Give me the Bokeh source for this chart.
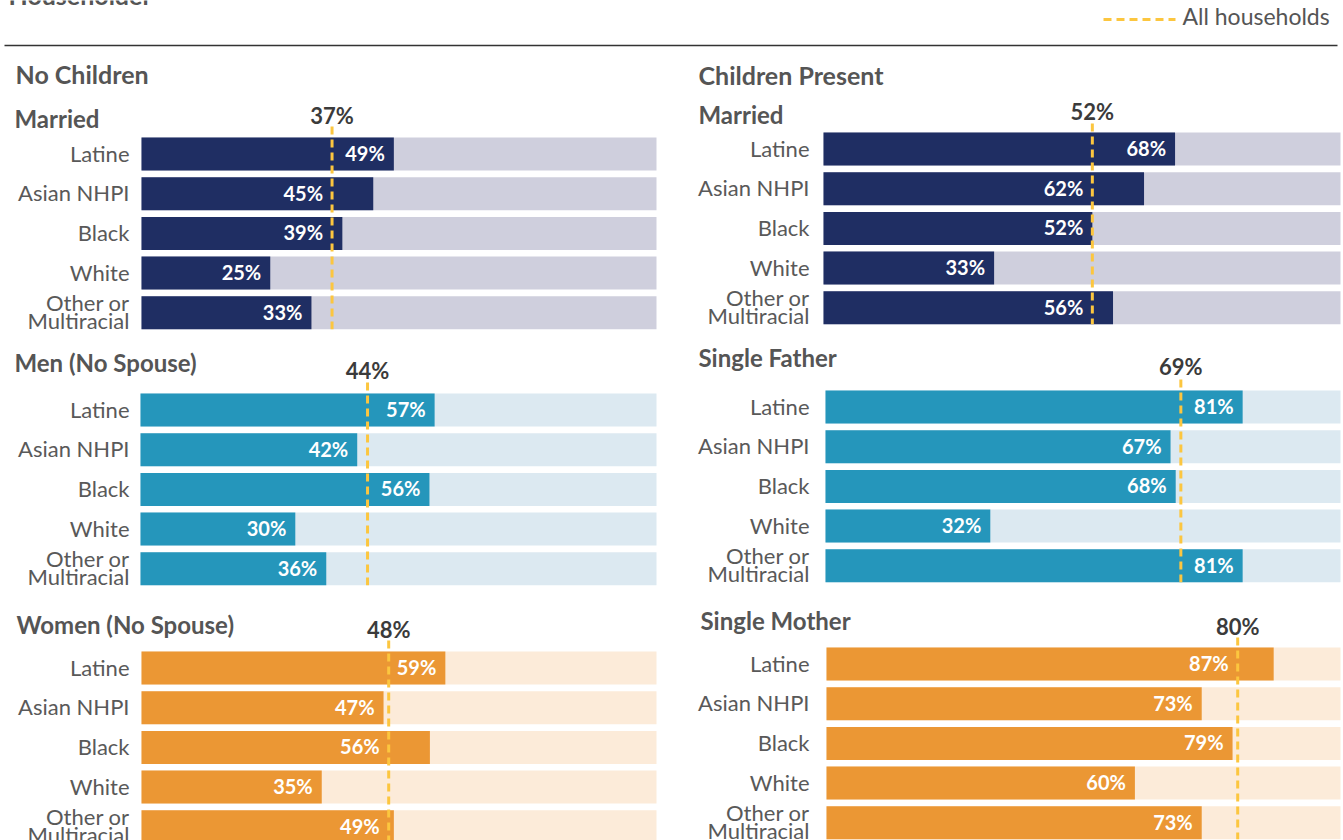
from bokeh.plotting import figure
from bokeh.models import Range1d, ColumnDataSource
from bokeh.core.properties import value
from bokeh.embed import file_html
from bokeh.resources import INLINE

# ---------------- data ----------------
categories = ["Latine", "Asian NHPI", "Black", "White", "Other or\nMultiracial"]

column_titles = ["No Children", "Children Present"]
panel_titles = ["Married", "Men (No Spouse)", "Women (No Spouse)",
                "Married", "Single Father", "Single Mother"]

nochild_married = [49, 45, 39, 25, 33]
nochild_men = [57, 42, 56, 30, 36]
nochild_women = [59, 47, 56, 35, 49]
child_married = [68, 62, 52, 33, 56]
single_father = [81, 67, 68, 32, 81]
single_mother = [87, 73, 79, 60, 73]

all_households = [37, 44, 48, 52, 69, 80]

legend_label = "All households"
title_text = "Householder"

# ---------------- style / layout ----------------
FONT = value("Lato")
W, H = 1343, 840
PITCH = 39.7
BAR_PX = 33.0
SHIFT = -0.4   # baseline correction, in em

dark = ["#1f2e63", "#2596bb", "#eb9734"]
light = ["#cfcfdd", "#dce9f1", "#fcebd9"]
YELLOW = "#fcc63f"
TXT = "#595959"
TITLE_C = "#555555"
AVG_C = "#3b3b3b"


def fs(n):
    return f"{n}px"


# per panel layout (px): bar origin, bar end, first bar top, title baseline,
# avg-label baseline, dashed line start, title x, category label right edge
layout = [
    dict(o=141, e=656, top=137, tb=128, ab=124, ls=126, tx=14, lx=129, row=0),
    dict(o=140, e=656, top=393, tb=372, ab=379, ls=382, tx=14, lx=129, row=1),
    dict(o=141, e=656, top=651, tb=634, ab=638, ls=640, tx=16, lx=129, row=2),
    dict(o=823, e=1340, top=132, tb=124, ab=120, ls=123, tx=698, lx=809, row=0),
    dict(o=825, e=1340, top=390, tb=367, ab=375, ls=379, tx=698, lx=809, row=1),
    dict(o=826, e=1340, top=647, tb=630, ab=635, ls=637, tx=700, lx=809, row=2),
]
series = [nochild_married, nochild_men, nochild_women,
          child_married, single_father, single_mother]

p = figure(width=W, height=H,
           x_range=Range1d(0, W), y_range=Range1d(H, 0),
           output_backend="svg", toolbar_location=None,
           x_axis_location=None, y_axis_location=None,
           min_border=0, outline_line_color=None)
p.grid.visible = False
p.background_fill_color = "white"
p.border_fill_color = "white"

# header
p.text(x=[8], y=[4], text=[title_text], text_font=FONT, text_font_size=fs(25),
       text_font_style="bold", text_color=TITLE_C, text_baseline="alphabetic",
       y_offset=SHIFT * 25)
p.segment(x0=[1103], x1=[1175], y0=[19], y1=[19], line_color=YELLOW,
          line_width=3, line_dash="8 5")
p.text(x=[1182], y=[25], text=[legend_label], text_font=FONT, text_font_size=fs(23),
       text_color=TITLE_C, text_baseline="alphabetic", y_offset=SHIFT * 23)
p.segment(x0=[4], x1=[1337], y0=[45], y1=[45], line_color="#333333", line_width=1.6)

p.text(x=[15, 698], y=[83, 84], text=column_titles, text_font=FONT,
       text_font_size=fs(25), text_font_style="bold", text_color=TITLE_C,
       text_baseline="alphabetic", y_offset=SHIFT * 25)

h_idx = BAR_PX / PITCH
idx = list(range(len(categories)))

for k, (lay, vals, avg, ttl) in enumerate(zip(layout, series, all_households, panel_titles)):
    s = (lay["e"] - lay["o"]) / 100.0
    c0 = lay["top"] + BAR_PX / 2
    xn, yn = f"x{k}", f"y{k}"
    p.extra_x_ranges.update({xn: Range1d(-lay["o"] / s, (W - lay["o"]) / s)})
    p.extra_y_ranges.update({yn: Range1d((H - c0) / PITCH, -c0 / PITCH)})
    r = lay["row"]

    # background and value bars
    p.hbar(y=idx, left=0, right=[100] * len(idx), height=h_idx,
           fill_color=light[r], line_color=None, x_range_name=xn, y_range_name=yn)
    p.hbar(y=idx, left=0, right=vals, height=h_idx,
           fill_color=dark[r], line_color=None, x_range_name=xn, y_range_name=yn)

    # value labels (moved left of the dashed line where they would touch it)
    lab_x = []
    line_px = avg * s
    for v in vals:
        right_px = v * s - 9
        left_px = right_px - 40
        if left_px - 3 < line_px < right_px + 4:
            lab_x.append(avg)
        else:
            lab_x.append(v)
    p.text(x=lab_x, y=idx, text=[f"{v}%" for v in vals], x_offset=-9,
           y_offset=7 + SHIFT * 20,
           text_font=FONT, text_font_size=fs(20), text_font_style="bold",
           text_color="white", text_align="right", text_baseline="alphabetic",
           x_range_name=xn, y_range_name=yn)

    # category labels
    cy, ct, co = [], [], []
    for i, c in zip(idx, categories):
        lines = c.split("\n")
        offs = [8] if len(lines) == 1 else [-1.5, 16]
        for ln, o in zip(lines, offs):
            cy.append(i)
            ct.append(ln)
            co.append(o + SHIFT * 22)
    src = ColumnDataSource(dict(x=[lay["lx"]] * len(cy), y=cy, t=ct, yo=co))
    p.text(x="x", y="y", text="t", y_offset="yo", source=src,
           text_font=FONT, text_font_size=fs(22), text_color=TXT,
           text_align="right", text_baseline="alphabetic", y_range_name=yn)

    # all-households dashed line and label
    p.segment(x0=[avg], x1=[avg], y0=[(lay["ls"] - c0) / PITCH],
              y1=[idx[-1] + h_idx / 2], line_color=YELLOW, line_width=3,
              line_dash="8 5", x_range_name=xn, y_range_name=yn)
    p.text(x=[avg], y=[lay["ab"]], text=[f"{avg}%"], text_font=FONT,
           text_font_size=fs(22), text_font_style="bold", text_color=AVG_C,
           text_align="center", text_baseline="alphabetic", x_range_name=xn,
           y_offset=SHIFT * 22)

    # panel title
    p.text(x=[lay["tx"]], y=[lay["tb"]], text=[ttl], text_font=FONT,
           text_font_size=fs(24), text_font_style="bold", text_color=TITLE_C,
           text_baseline="alphabetic", y_offset=SHIFT * 24)

open("out.html", "w").write(file_html(p, INLINE))
